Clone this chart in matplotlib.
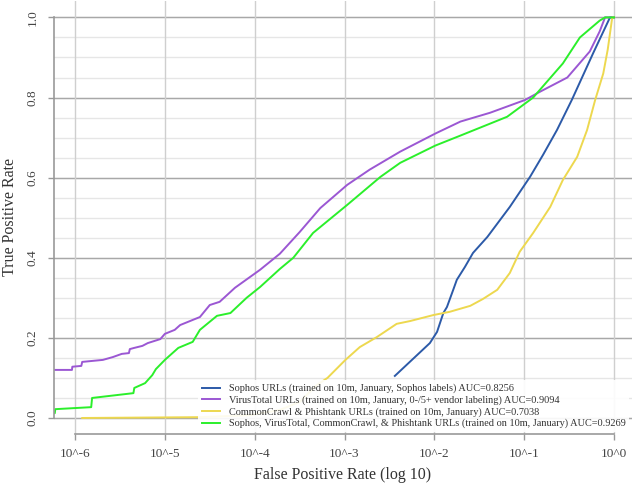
import matplotlib.pyplot as plt
import numpy as np

plt.rcParams['font.family'] = ['Liberation Serif', 'DejaVu Serif']

# ROC curves, x = log10(false positive rate), y = true positive rate
sophos_x = [-2.44, -2.05, -1.97, -1.90, -1.86, -1.79, -1.75, -1.66, -1.57, -1.41,
            -1.27, -1.16, -0.935, -0.79, -0.635, -0.47, -0.234, -0.045, 0.0]
sophos_y = [0.105, 0.187, 0.215, 0.262, 0.277, 0.320, 0.345, 0.377, 0.412, 0.452,
            0.494, 0.527, 0.602, 0.657, 0.719, 0.794, 0.910, 1.0, 1.0]

vt_x = [-6.234, -6.034, -6.030, -5.93, -5.92, -5.69, -5.58, -5.48, -5.40, -5.39,
        -5.34, -5.25, -5.19, -5.05, -5.00, -4.89, -4.83, -4.61, -4.50, -4.39,
        -4.22, -3.94, -3.72, -3.50, -3.27, -2.97, -2.72, -2.38, -1.99, -1.71,
        -1.38, -0.99, -0.82, -0.52, -0.27, -0.16, -0.10, 0.0]
vt_y = [0.120, 0.120, 0.128, 0.130, 0.140, 0.145, 0.152, 0.160, 0.162, 0.172,
        0.175, 0.180, 0.187, 0.197, 0.210, 0.220, 0.232, 0.252, 0.282, 0.290,
        0.325, 0.370, 0.410, 0.464, 0.524, 0.582, 0.620, 0.665, 0.710, 0.740,
        0.762, 0.794, 0.815, 0.850, 0.915, 0.965, 1.0, 1.0]

cc_x = [-5.92, -4.61, -4.05, -3.72, -3.50, -3.31, -3.19, -2.99, -2.83, -2.64,
        -2.42, -2.27, -2.01, -1.83, -1.60, -1.46, -1.30, -1.16, -1.05, -0.90,
        -0.71, -0.57, -0.41, -0.30, -0.21, -0.12, -0.07, -0.02, 0.0]
cc_y = [0.0, 0.002, 0.007, 0.020, 0.040, 0.082, 0.100, 0.145, 0.177, 0.202,
        0.235, 0.242, 0.257, 0.265, 0.280, 0.297, 0.320, 0.362, 0.415, 0.462,
        0.527, 0.594, 0.652, 0.719, 0.794, 0.860, 0.920, 1.0, 1.0]

all_x = [-6.234, -6.225, -6.22, -5.82, -5.81, -5.35, -5.34, -5.22, -5.14, -5.10,
         -5.00, -4.85, -4.69, -4.61, -4.42, -4.27, -4.09, -3.94, -3.72, -3.57,
         -3.35, -2.97, -2.60, -2.38, -1.99, -1.71, -1.19, -0.90, -0.57, -0.38,
         -0.16, -0.10, 0.0]
all_y = [0.012, 0.012, 0.022, 0.027, 0.050, 0.062, 0.075, 0.087, 0.107, 0.122,
         0.145, 0.175, 0.190, 0.220, 0.255, 0.262, 0.300, 0.327, 0.372, 0.400,
         0.462, 0.532, 0.602, 0.637, 0.680, 0.705, 0.752, 0.800, 0.885, 0.950,
         0.992, 1.0, 1.0]

labels = [
    'Sophos URLs (trained on 10m, January, Sophos labels) AUC=0.8256',
    'VirusTotal URLs (trained on 10m, January, 0-/5+ vendor labeling) AUC=0.9094',
    'CommonCrawl & Phishtank URLs (trained on 10m, January) AUC=0.7038',
    'Sophos, VirusTotal, CommonCrawl, & Phishtank URLs (trained on 10m, January) AUC=0.9269',
]
colors = ['#2C5AA8', '#9B57D3', '#EDD84F', '#2BEF2B']

xticks = [-6, -5, -4, -3, -2, -1, 0]
xticklabels = ['10^-6', '10^-5', '10^-4', '10^-3', '10^-2', '10^-1', '10^0']
yticks = [0.0, 0.2, 0.4, 0.6, 0.8, 1.0]

fig = plt.figure(figsize=(6.32, 4.87), dpi=100)
ax = fig.add_axes([54 / 632, 53 / 487, 578 / 632, 433 / 487])

# grid
for v in np.arange(0, 1.001, 0.05):
    ax.axhline(v, color='#e6e6e6', lw=1, zorder=0)
for v in yticks:
    ax.axhline(v, color='#a8a8a8', lw=1, zorder=0)
for v in xticks:
    ax.axvline(v, color='#cfcfcf', lw=1, zorder=0)

series = [(sophos_x, sophos_y), (vt_x, vt_y), (cc_x, cc_y), (all_x, all_y)]
for (xs, ys), c, lab in zip(series, colors, labels):
    ax.plot(xs, ys, color=c, lw=1.4, label=lab)

ax.set_xlim(-6.234, 0.2)
ax.set_ylim(-0.04, 1.041)

for s in ['top', 'right']:
    ax.spines[s].set_visible(False)
ax.spines['bottom'].set_bounds(-6, 0)
ax.spines['left'].set_bounds(0, 1)
for s in ['bottom', 'left']:
    ax.spines[s].set_color('#999999')
    ax.spines[s].set_linewidth(1.2)

ax.set_xticks(xticks)
ax.set_xticklabels(xticklabels)
ax.set_yticks(yticks)
ax.set_yticklabels(['%.1f' % v for v in yticks], rotation=90, va='center')
ax.tick_params(axis='both', length=4, width=1, color='#999999',
               labelsize=9.5, labelcolor='#444444')
ax.tick_params(axis='x', pad=6)
ax.tick_params(axis='y', pad=7)

ax.set_xlabel('False Positive Rate (log 10)', fontsize=11.5, color='#333333', labelpad=5)
ax.set_ylabel('True Positive Rate', fontsize=11.5, color='#333333', labelpad=6)

leg = ax.legend(loc='lower left', bbox_to_anchor=(198 / 632, 55 / 487),
                bbox_transform=fig.transFigure, borderaxespad=0,
                fontsize=7.35, frameon=True, facecolor='white', edgecolor='none',
                framealpha=0.9, fancybox=False, handlelength=1.8,
                handletextpad=0.9, labelspacing=0.2, borderpad=0.35)
for t in leg.get_texts():
    t.set_color('#333333')

fig.savefig('out.png', dpi=100)
